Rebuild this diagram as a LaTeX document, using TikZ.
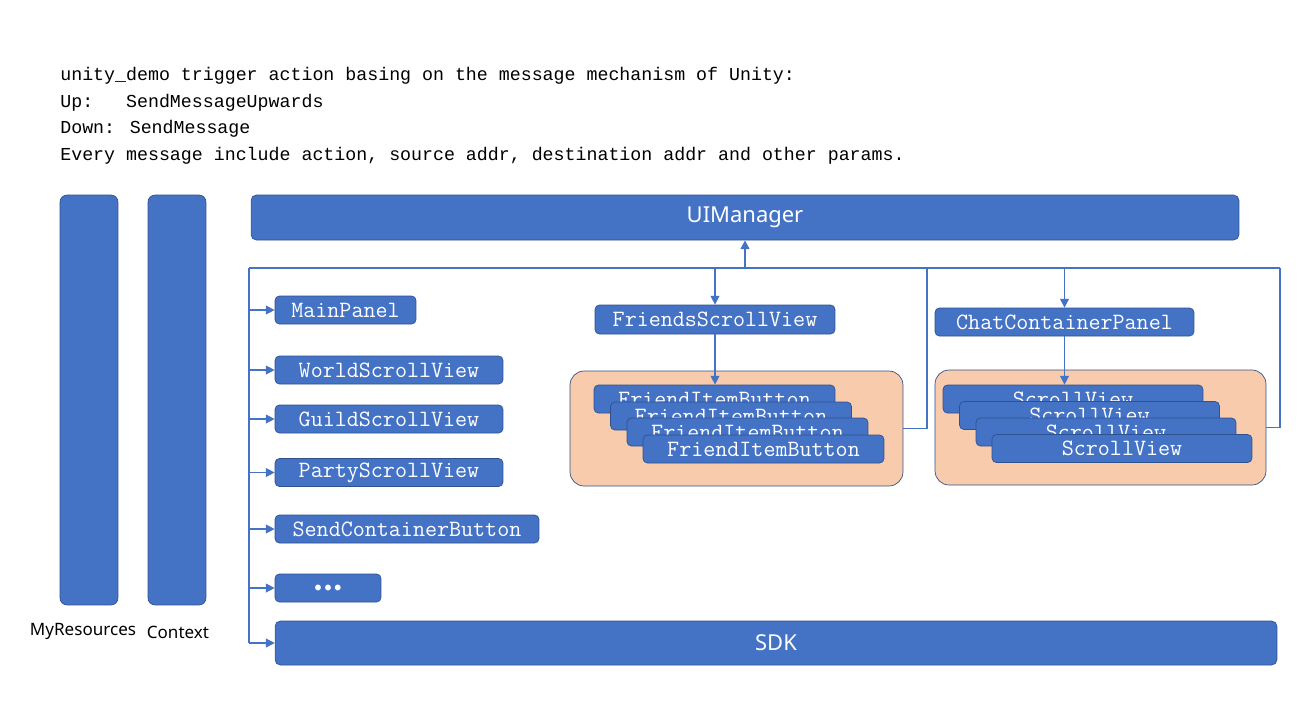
\documentclass[tikz,border=0pt]{standalone}
\usepackage{fontspec}
\usepackage{tikz}
\usetikzlibrary{arrows.meta, positioning}
\newfontfamily\notefont{Liberation Mono}
\newfontfamily\uifont{Noto Sans}
\definecolor{boxblue}{HTML}{4472C4}
\definecolor{edgeblue}{HTML}{2F528F}
\definecolor{wireblue}{HTML}{4472C4}
\definecolor{peach}{HTML}{F8CBAD}

\begin{document}
\begin{tikzpicture}[x=0.02cm, y=-0.02cm,
  box/.style={draw=edgeblue, fill=boxblue, rounded corners=2.5pt, text=white, inner sep=0pt,
    minimum height=0.56cm, font=\ttfamily\fontsize{13.3}{14}\selectfont},
  bigbox/.style={box, rounded corners=3pt, minimum height=0.9cm, font=\uifont\fontsize{12.5}{14}\selectfont},
  bar/.style={draw=edgeblue, fill=boxblue, rounded corners=4pt, minimum width=1.16cm, minimum height=8.2cm},
  group/.style={draw=edgeblue, fill=peach, rounded corners=8pt, minimum width=6.62cm, minimum height=2.3cm},
  wire/.style={draw=wireblue, line width=0.7pt},
  arr/.style={wire, -{Triangle[width=5pt,length=5pt]}},
  note/.style={anchor=base west, inner sep=0pt, font=\notefont\fontsize{10.4}{12}\selectfont},
  caption/.style={font=\uifont\fontsize{9.7}{11}\selectfont}]
  \useasboundingbox (0,0) rectangle (1307,721);

  % header text
  \node[note] (n1) at (60,80) {unity\_demo trigger action basing on the message mechanism of Unity:};
  \node[note] (n2) at (60,107) {Up:\ \ \ SendMessageUpwards};
  \node[note] (n3) at (60,133) {Down: SendMessage};
  \node[note] (n4) at (60,160) {Every message include action, source addr, destination addr and other params.};

  % side bars
  \node[bar] (res) at (89,400) {};
  \node[bar] (ctx) at (177,400) {};
  \node[caption] (resl) at (83,631) {MyResources};
  \node[caption] (ctxl) at (178,632) {Context};

  % main column
  \node[bigbox, minimum width=19.76cm] (ui)  at (745,217.5) {\raisebox{-1.5pt}{UIManager}};
  \node[box, minimum width=2.82cm]     (main)  at (345.5,310) {MainPanel};
  \node[box, minimum width=4.56cm]     (world) at (389,370) {WorldScrollView};
  \node[box, minimum width=4.56cm]     (guild) at (389,419) {GuildScrollView};
  \node[box, minimum width=4.56cm]     (party) at (389,472.5) {PartyScrollView};
  \node[box, minimum width=5.28cm]     (send)  at (407,529) {SendContainerButton};
  \node[box, minimum width=2.12cm]     (dots)  at (328,588) {\fontsize{8}{8}\selectfont${\bullet}\,{\bullet}\,{\bullet}$};
  \node[bigbox, minimum width=20.04cm, minimum height=0.88cm] (sdk) at (776,643) {SDK};

  % friends
  \node[box, minimum width=4.8cm, minimum height=0.58cm] (friends) at (715,319.5) {FriendsScrollView};
  \node[group, minimum width=6.66cm] (fgroup) at (736.5,428.5) {};
  \foreach \i/\x/\y in {1/714.5/399, 2/731/416, 3/747.5/432, 4/763.5/449}
    \node[box, minimum width=4.82cm] (fb\i) at (\x,\y) {FriendItemButton};

  % chat
  \node[box, minimum width=5.18cm] (chat) at (1064.5,322) {ChatContainerPanel};
  \node[group] (cgroup) at (1100.5,427.5) {};
  \foreach \i/\x/\y in {1/1073/399, 2/1089.5/415.5, 3/1106/432, 4/1122/448.5}
    \node[box, minimum width=5.2cm] (sv\i) at (\x,\y) {ScrollView};

  % connectors
  \coordinate (lft)  at (249,268);
  \coordinate (bus)  at (745,268);
  \coordinate (tapf) at (927,268);
  \coordinate (rgt)  at (1280,268);

  \draw[wire] (lft) -- (rgt);
  \draw[wire, line width=1.1pt] (lft) -- (bus);
  \draw[wire] (lft) -- (lft |- sdk.west);
  \foreach \n in {main,world,guild,party,send,dots,sdk}
    \draw[arr] (lft |- \n.west) -- (\n.west);
  \draw[arr, line width=1.1pt] (bus) -- (bus |- ui.south);
  \draw[arr] (friends.north |- lft) -- (friends.north);
  \draw[arr] (friends.south) -- (fb1.north -| friends.south);
  \draw[arr] (chat.north |- lft) -- (chat.north);
  \draw[arr] (chat.south) -- (sv1.north -| chat.south);
  \draw[wire] (tapf) |- (fgroup.east);
  \draw[wire] (rgt) |- (cgroup.east);
\end{tikzpicture}
\end{document}
